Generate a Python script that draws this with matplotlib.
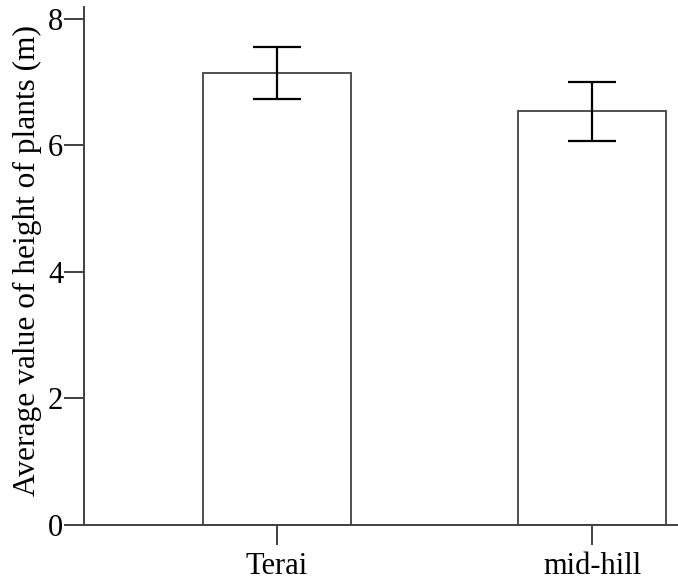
import matplotlib
matplotlib.use("Agg")
import matplotlib.pyplot as plt

# mean plant height per region with error half-widths
regions = ["Terai", "mid-hill"]
mean_height = [7.14, 6.54]
err_height = [0.41, 0.47]

plt.rcParams["font.family"] = ["Liberation Serif", "DejaVu Serif"]

W, H = 678, 582
fig = plt.figure(figsize=(W / 100, H / 100), dpi=100)
left, bottom, top = 84, 524.7, 7
ax = fig.add_axes([left / W, 1 - bottom / H, 1 - left / W, (bottom - top) / H])

xpos = range(len(regions))
ax.bar(xpos, mean_height, width=0.47, color="white", edgecolor="#505050",
       linewidth=1.4, zorder=2)
ax.errorbar(xpos, mean_height, yerr=err_height, fmt="none", ecolor="black",
            elinewidth=1.6, capsize=17.6, capthick=1.6, zorder=3)

ax.set_xlim(-0.613, 1.273)
ax.set_ylim(0, 8 + (19 - top) / 63.3)
ax.set_yticks([0, 2, 4, 6, 8])
ax.set_xticks(list(xpos))
ax.set_xticklabels(regions)
ax.set_ylabel("Average value of height of plants (m)", fontsize=22.6)
ax.yaxis.set_label_coords(-0.071, 0.511)

for side in ("top", "right"):
    ax.spines[side].set_visible(False)
for side in ("left", "bottom"):
    ax.spines[side].set_color("#404040")
    ax.spines[side].set_linewidth(1.4)
ax.tick_params(axis="both", direction="out", length=14.4, width=1.4,
               color="#404040", labelsize=22)
ax.tick_params(axis="y", pad=0.5)
ax.tick_params(axis="x", pad=5)

fig.savefig("out.png", dpi=100)
